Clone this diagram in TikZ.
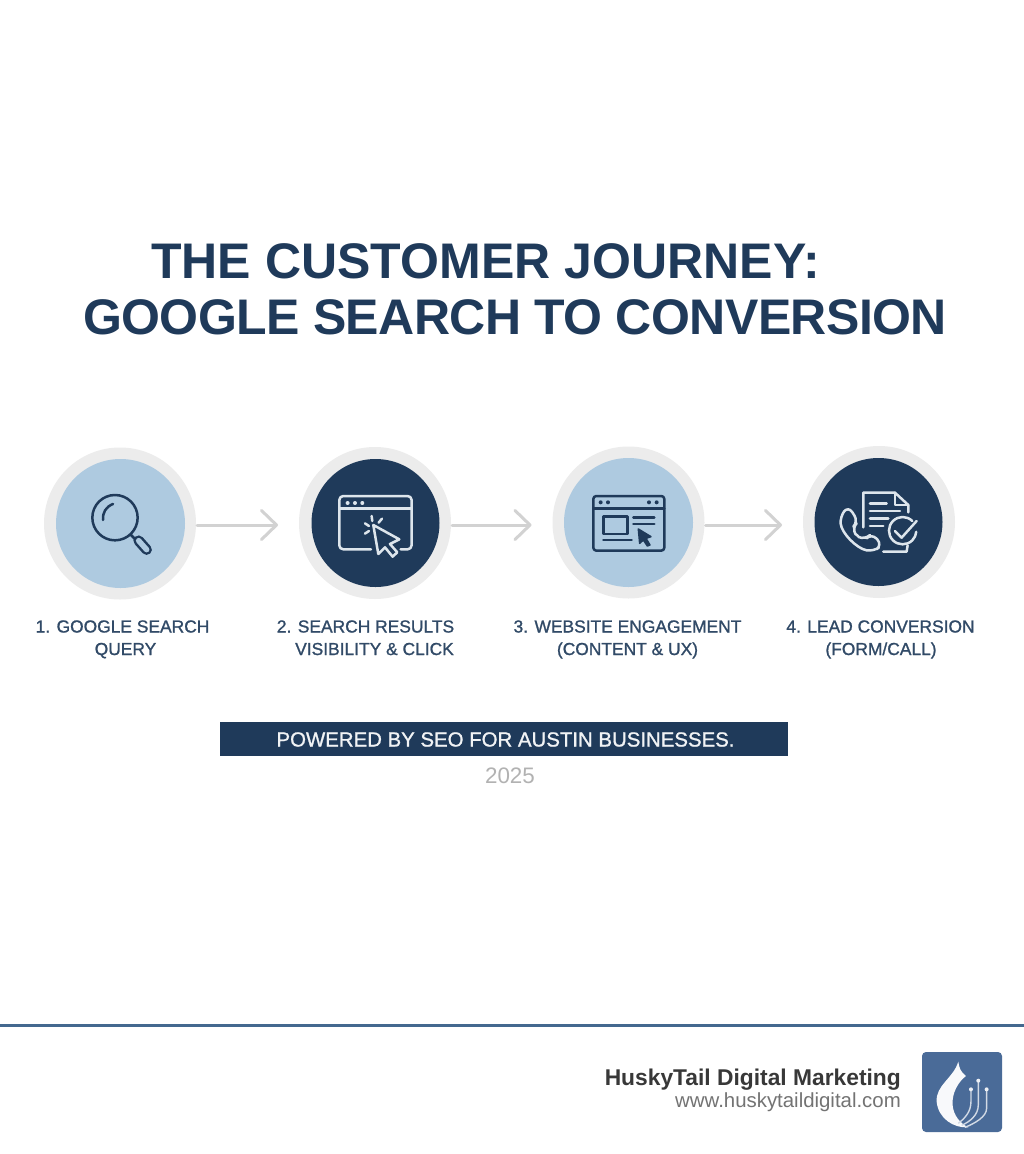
\documentclass[tikz,border=0pt]{standalone}
\usepackage{fontspec}
\usetikzlibrary{arrows.meta}
\setmainfont{Liberation Sans}
\newfontfamily\titlefontA[LetterSpace=0.1]{Liberation Sans}
\newfontfamily\titlefontB[LetterSpace=-1.15]{Liberation Sans}
\newfontfamily\labelfont[FakeBold=1.1]{Liberation Sans}
\definecolor{navy}{HTML}{1F3A5A}
\definecolor{sky}{HTML}{AECAE0}
\definecolor{ringgray}{HTML}{ECECEC}
\definecolor{arrowgray}{HTML}{D2D2D2}
\definecolor{iconlight}{HTML}{DDE5EC}
\definecolor{rulecol}{HTML}{44688F}
\definecolor{logocol}{HTML}{4A6B98}
\tikzset{
  ring/.style={circle,fill=ringgray,minimum size=152pt,inner sep=0pt,outer sep=0pt},
  lightdisc/.style={circle,fill=sky,minimum size=129pt,inner sep=0pt},
  darkdisc/.style={circle,fill=navy,minimum size=128pt,inner sep=0pt},
  flow/.style={draw=arrowgray,line width=3pt,line cap=round,-{Straight Barb[length=15pt,width=29pt,line width=3pt,round]},shorten >=21pt,shorten <=1pt},
  titletext/.style={anchor=base west,inner sep=0pt,text=navy},
  steplabel/.style={anchor=base,inner sep=0pt,text=navy!92!white,font=\labelfont\fontsize{17.4}{18}\selectfont},
  icondark/.style={draw=navy,line width=2.5pt,line cap=round,line join=round},
  iconpale/.style={draw=iconlight,line width=2.5pt,line cap=round,line join=round},
  zoomA/.style={shift={(30pt,-440pt)},x=0.3333pt,y=-0.3333pt},
  zoomB/.style={shift={(540pt,-440pt)},x=0.3333pt,y=-0.3333pt},
  zoomC/.style={shift={(590pt,-1040pt)},x=0.3333pt,y=-0.3333pt},
}
\begin{document}
\begin{tikzpicture}[x=1pt,y=-1pt]
\useasboundingbox[fill=white] (0,0) rectangle (1024,1154);
% title
\node[titletext,font=\titlefontA\bfseries\fontsize{50}{50}\selectfont] (title1) at (151,278) {THE CUSTOMER JOURNEY:};
\node[titletext,font=\titlefontB\bfseries\fontsize{50}{50}\selectfont] (title2) at (83,334.5) {GOOGLE SEARCH TO CONVERSION};
% rings
\node[ring] (c1) at (120,523.5) {};
\node[ring] (c2) at (375,523) {};
\node[ring] (c3) at (628.5,522.5) {};
\node[ring] (c4) at (879,522) {};
\node[lightdisc] (d1) at (120.5,523.5) {};
\node[darkdisc] (d2) at (375.5,523) {};
\node[lightdisc] (d3) at (628.5,522.5) {};
\node[darkdisc] (d4) at (878.5,522) {};
% connectors
\draw[flow] ([yshift=-1.5pt]c1.east) -- ([yshift=-2pt]c2.west);
\draw[flow] ([yshift=-2pt]c2.east) -- ([yshift=-2.5pt]c3.west);
\draw[flow] ([yshift=-2.5pt]c3.east) -- ([yshift=-3pt]c4.west);
% icon 1: magnifier
\begin{scope}[zoomA]
  \draw[icondark] (255,233) circle (68);
  \draw[icondark] (219,240) .. controls (217,218) and (228,200) .. (249,192);
  \draw[icondark] (303,285) -- (316,298);
  \draw[navy,line width=10.5pt,line cap=round] (326,302) -- (350,329);
  \draw[sky,line width=5.5pt,line cap=round] (326,302) -- (350,329);
\end{scope}
% icon 2: browser with cursor
\begin{scope}[zoomA]
  \draw[iconpale,rounded corners=4pt] (1023,328) -- (928,328) -- (928,168) -- (1145,168) -- (1145,328) -- (1112,328);
  \draw[iconpale] (928,205) -- (1145,205);
  \fill[iconlight] (953,189) circle (6) (975,189) circle (6) (997,189) circle (6);
  \draw[iconpale] (1030,255) -- (1108,298) -- (1080,312) -- (1102,337) -- (1088,350) -- (1065,322) -- (1045,342) -- cycle;
  \draw[iconpale] (1025,228) -- (1027,243) (1056,236) -- (1046,248) (1005,250) -- (1017,258) (1005,281) -- (1017,273);
\end{scope}
% icon 3: page with cursor
\begin{scope}[zoomB]
  \draw[icondark,rounded corners=3pt] (160,168) rectangle (373,332);
  \draw[icondark] (160,205) -- (373,205);
  \fill[navy] (182,187) circle (6) (204,187) circle (6) (327,187) circle (6) (350,187) circle (6);
  \draw[icondark] (190,230) rectangle (262,282);
  \draw[icondark] (280,232) -- (343,232) (280,252) -- (343,252) (190,300) -- (275,300);
  \filldraw[icondark,fill=navy,line width=1.5pt] (295,267) -- (333,290) -- (318,295) -- (330,315) -- (322,318) -- (310,300) -- (299,310) -- cycle;
\end{scope}
% icon 4: phone, document, check
\begin{scope}[zoomB]
  \draw[iconpale] (970,262) -- (970,158) -- (1065,158) -- (1105,195) -- (1105,217);
  \draw[iconpale] (1065,158) -- (1065,195) -- (1105,195);
  \draw[iconpale] (990,190) -- (1040,190) (990,213) -- (1080,213) (990,236) -- (1045,236) (990,258) -- (1030,258);
  \draw[iconpale] (1117,243) arc[start angle=-45,end angle=-355,radius=41];
  \draw[iconpale] (1065,273) -- (1085,293) -- (1130,243);
  \draw[iconpale] (1030,335) -- (1100,335) -- (1103,316);
  \draw[iconpale,rounded corners=7pt] (925,198) -- (955,245) -- (935,265) .. controls (945,280) and (960,293) .. (975,300) -- (995,280) -- (1027,315) -- (1000,335) .. controls (950,325) and (905,280) .. (900,230) -- cycle;
\end{scope}
% labels
\node[steplabel] (l1a) at (122.5,632.5) {1. GOOGLE SEARCH};
\node[steplabel] (l1b) at (125.5,655) {QUERY};
\node[steplabel] (l2a) at (365.5,632.5) {2. SEARCH RESULTS};
\node[steplabel] (l2b) at (374.5,655) {VISIBILITY \& CLICK};
\node[steplabel] (l3a) at (627.5,632.5) {3. WEBSITE ENGAGEMENT};
\node[steplabel] (l3b) at (627.5,655) {(CONTENT \& UX)};
\node[steplabel] (l4a) at (880.5,632.5) {4. LEAD CONVERSION};
\node[steplabel] (l4b) at (881,655) {(FORM/CALL)};
% banner
\node[fill=navy,minimum width=568pt,minimum height=34pt,inner sep=0pt] (banner) at (504,738.5) {};
\node[anchor=base,inner sep=0pt,text=white!94!navy,font=\labelfont\fontsize{20.4}{21}\selectfont] (bannertext) at (505.5,746.5) {POWERED BY SEO FOR AUSTIN BUSINESSES.};
\node[anchor=base,inner sep=0pt,text=black!30,font=\fontsize{22.4}{22}\selectfont] (year) at (510,783.5) {2025};
% footer
\fill[rulecol] (0,1024) rectangle (1024,1026.5);
\node[anchor=base east,inner sep=0pt,text=black!78,font=\bfseries\fontsize{22.8}{23}\selectfont] (brand) at (901,1085) {HuskyTail Digital Marketing};
\node[anchor=base east,inner sep=0pt,text=black!55,font=\fontsize{20.4}{20}\selectfont] (url) at (901,1107) {www.huskytaildigital.com};
\node[fill=logocol,rounded corners=4pt,minimum size=80pt,inner sep=0pt] (logo) at (962,1092) {};
\begin{scope}[zoomC]
  \fill[white!96!logocol] (1105,65) .. controls (1108,85) and (1112,95) .. (1128,108)
    .. controls (1105,125) and (1085,160) .. (1088,195)
    .. controls (1090,225) and (1110,250) .. (1135,262)
    .. controls (1090,265) and (1045,235) .. (1040,185)
    .. controls (1037,135) and (1090,115) .. (1105,65) -- cycle;
  \draw[white!75!logocol,line width=1.4pt] (1143,150) -- (1143,185) .. controls (1143,215) and (1125,235) .. (1105,250);
  \draw[white!75!logocol,line width=1.4pt] (1165,125) -- (1165,195) .. controls (1165,225) and (1140,245) .. (1115,256);
  \draw[white!75!logocol,line width=1.4pt] (1190,150) -- (1190,205) .. controls (1190,230) and (1155,250) .. (1125,262);
  \fill[white!90!logocol] (1143,148) circle (6) (1165,122) circle (6) (1190,148) circle (6);
\end{scope}
\end{tikzpicture}
\end{document}
